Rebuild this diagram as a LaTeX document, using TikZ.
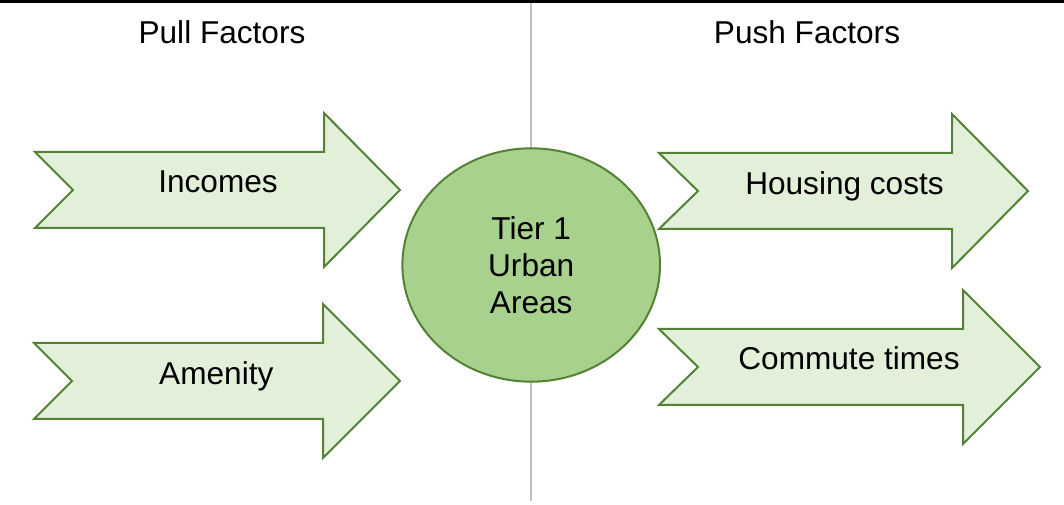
\documentclass[tikz,border=0pt]{standalone}
\usepackage{fontspec}
\setmainfont{Liberation Sans}
\usepackage{tikz}
\usetikzlibrary{shapes.geometric}
\definecolor{darkgreen}{HTML}{548235}
\definecolor{lightgreen}{HTML}{E2F0D9}
\definecolor{midgreen}{HTML}{A9D18E}
\tikzset{
  factor/.style={fill=lightgreen, draw=darkgreen, line width=1.5pt},
  txt/.style={font=\fontsize{23.7}{27.75}\selectfont, anchor=base, inner sep=0pt}
}

\begin{document}
\begin{tikzpicture}[x=0.75pt,y=-0.75pt]
        \def\bh{38}
        \def\hh{77}
        \useasboundingbox (0,0) rectangle (1064,505);
        %Divider
        \draw[black!25, line width=0.9pt] (531,3) -- (531,501);
        \draw[line width=1.6pt] (0,1.5) -- (1064,1.5);
        %Headings
        \node[txt] (pull) at (222,44) {Pull Factors};
        \node[txt] (push) at (807,43.3) {Push Factors};
        %Pull arrows
        \filldraw[factor] (35,190-\bh) -- (324,190-\bh) -- (324,190-\hh) -- (400,190)
          -- (324,190+\hh) -- (324,190+\bh) -- (35,190+\bh) -- (73,190) -- cycle;
        \filldraw[factor] (34,381-\bh) -- (323,381-\bh) -- (323,381-\hh) -- (400,381)
          -- (323,381+\hh) -- (323,381+\bh) -- (34,381+\bh) -- (72,381) -- cycle;
        %Push arrows
        \filldraw[factor] (659,191-\bh) -- (952,191-\bh) -- (952,191-\hh) -- (1028,191)
          -- (952,191+\hh) -- (952,191+\bh) -- (659,191+\bh) -- (698,191) -- cycle;
        \filldraw[factor] (659,367-\bh) -- (963,367-\bh) -- (963,367-\hh) -- (1040,367)
          -- (963,367+\hh) -- (963,367+\bh) -- (659,367+\bh) -- (698,367) -- cycle;
        %Labels
        \node[txt] (incomes) at (218,192.7) {Incomes};
        \node[txt] (amenity) at (216.3,384.3) {Amenity};
        \node[txt] (housing) at (844.5,194.3) {Housing costs};
        \node[txt] (commute) at (849,369.3) {Commute times};
        %Centre
        \node[ellipse, fill=midgreen, draw=darkgreen, line width=1.5pt, inner sep=0pt,
          minimum width=193.2pt, minimum height=175pt, align=center,
          font=\fontsize{23.7}{27.75}\selectfont] (tier) at (531.2,265) {Tier 1\\Urban\\Areas};
\end{tikzpicture}
\end{document}
